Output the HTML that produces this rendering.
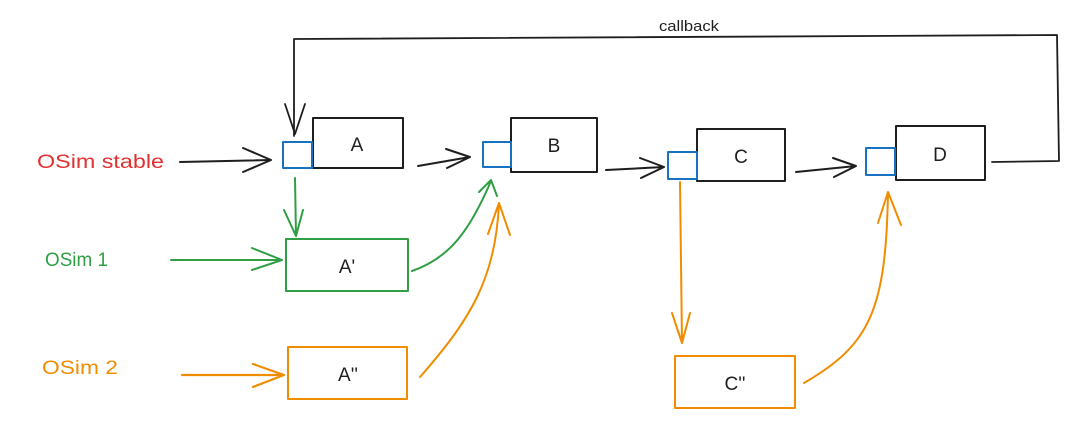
<!DOCTYPE html>
<html><head><style>
html,body{margin:0;padding:0;background:#fff;}
svg text{font-family:"Liberation Sans",sans-serif;}
</style></head><body>
<svg width="1080" height="431" viewBox="0 0 1080 431" xmlns="http://www.w3.org/2000/svg">
<g fill="none" stroke-linecap="round" stroke-linejoin="round">
<path d="M294 136 L294 39 L1057 35 L1059 161 L992 162" stroke="#1e1e1e" stroke-width="1.8"/>
<path d="M285 104 L295 134 L305 104" stroke="#1e1e1e" stroke-width="1.8"/>
<rect x="313" y="118" width="90" height="50" stroke="#1e1e1e" stroke-width="2"/>
<rect x="511" y="118" width="86" height="54" stroke="#1e1e1e" stroke-width="2"/>
<rect x="697" y="129" width="88" height="52" stroke="#1e1e1e" stroke-width="2"/>
<rect x="896" y="126" width="89" height="54" stroke="#1e1e1e" stroke-width="2"/>
<rect x="283" y="142" width="29" height="26" stroke="#1971c2" stroke-width="2"/>
<rect x="483" y="142" width="28" height="25" stroke="#1971c2" stroke-width="2"/>
<rect x="668" y="152" width="29" height="27" stroke="#1971c2" stroke-width="2"/>
<rect x="866" y="148" width="29" height="27" stroke="#1971c2" stroke-width="2"/>
<path d="M180 162 L271 160 M243 148 L271 160 L243 172" stroke="#1e1e1e" stroke-width="2"/>
<path d="M418 166 L470 157 M446 149 L470 157 L447 168" stroke="#1e1e1e" stroke-width="2"/>
<path d="M606 170 L664 167 M640 158 L664 167 L641 178" stroke="#1e1e1e" stroke-width="2"/>
<path d="M796 172 L856 166 M833 158 L856 166 L834 177" stroke="#1e1e1e" stroke-width="2"/>
<rect x="286" y="239" width="122" height="52" stroke="#2f9e44" stroke-width="2"/>
<path d="M171 260 L282 260 M252 248 L282 260 L252 270" stroke="#2f9e44" stroke-width="2"/>
<path d="M295 178 L296 236 M284 210 L296 236 L303 210" stroke="#2f9e44" stroke-width="2"/>
<path d="M412 271 C450 258 470 230 491 181 M479 192 L491 180 L497 196" stroke="#2f9e44" stroke-width="2"/>
<rect x="288" y="347" width="119" height="52" stroke="#f08c00" stroke-width="2"/>
<rect x="675" y="356" width="120" height="52" stroke="#f08c00" stroke-width="2"/>
<path d="M182 375 L284 375 M253 364 L284 375 L253 387" stroke="#f08c00" stroke-width="2.2"/>
<path d="M420 377 C470 320 495 280 499 204 M488 234 L499 203 L510 235" stroke="#f08c00" stroke-width="2"/>
<path d="M680 182 L682 343 M672 313 L682 343 L690 313" stroke="#f08c00" stroke-width="2"/>
<path d="M804 383 C870 345 886 310 888 192 M878 223 L888 192 L901 225" stroke="#f08c00" stroke-width="2"/>
</g>
<g font-size="19" fill="#1e1e1e" text-anchor="middle">
<text x="357" y="151">A</text>
<text x="554" y="152">B</text>
<text x="741" y="163">C</text>
<text x="940" y="161">D</text>
<text x="347" y="273">A'</text>
<text x="348" y="381">A''</text>
<text x="735" y="390">C''</text>
<text x="689" y="31" font-size="15" textLength="60" lengthAdjust="spacingAndGlyphs">callback</text>
</g>
<g font-size="19">
<text x="37" y="168" fill="#e03131" textLength="127" lengthAdjust="spacingAndGlyphs">OSim stable</text>
<text x="45" y="266" fill="#2f9e44" textLength="63" lengthAdjust="spacingAndGlyphs">OSim 1</text>
<text x="42" y="374" fill="#f08c00" textLength="76" lengthAdjust="spacingAndGlyphs">OSim 2</text>
</g>
</svg>
</body></html>
